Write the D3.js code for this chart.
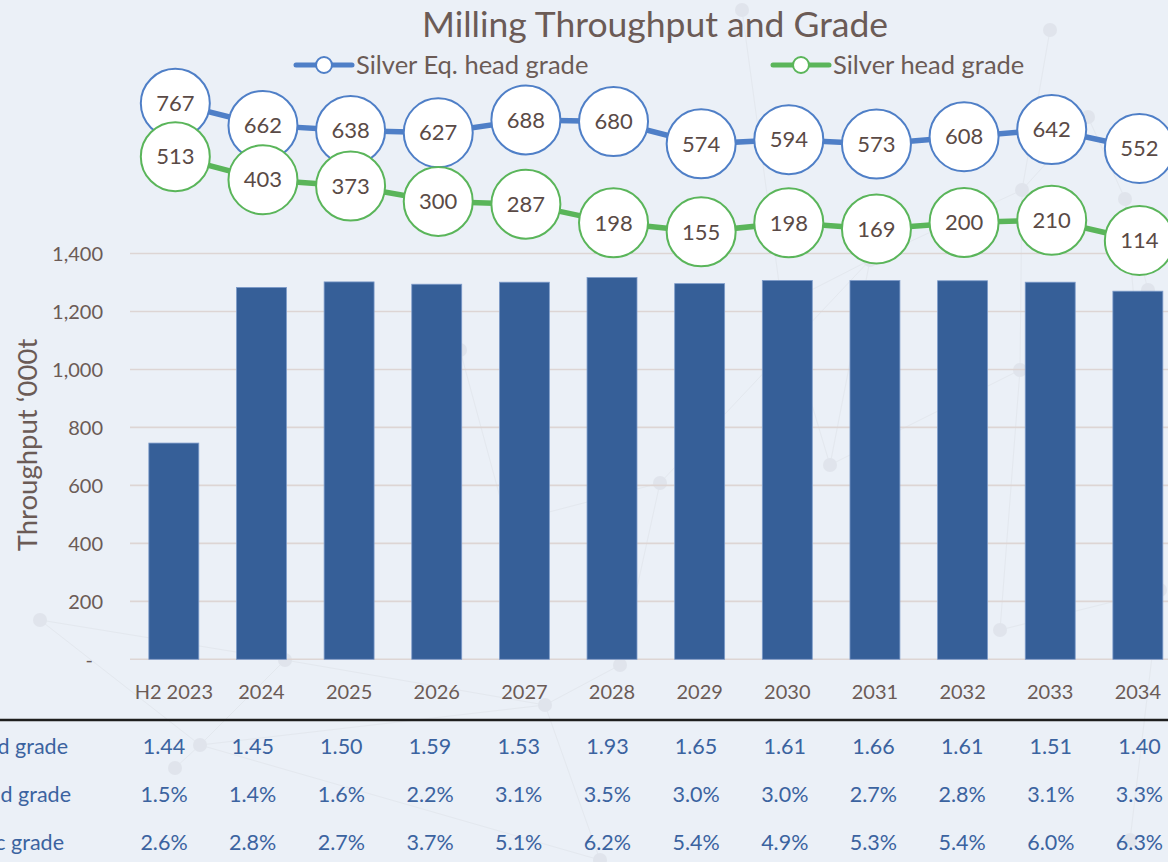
<!DOCTYPE html>
<html>
<head>
<meta charset="utf-8">
<script src="https://cdn.jsdelivr.net/npm/d3@7/dist/d3.min.js"></script>
<style>
  html, body { margin: 0; padding: 0; background: #ebf0f7; overflow: hidden; }
  svg { display: block; font-family: Lato, "Noto Sans", sans-serif; }
</style>
</head>
<body>
<svg id="chart" width="1168" height="862"></svg>
<script>
// ---- data ----
const categories = ["H2 2023","2024","2025","2026","2027","2028","2029","2030","2031","2032","2033","2034"];
const throughput = [746,1283,1302,1294,1301,1317,1296,1307,1307,1306,1301,1270];
const silverEqGrade = [767,662,638,627,688,680,574,594,573,608,642,552];
const silverHeadGrade = [513,403,373,300,287,198,155,198,169,200,210,114];
const goldHeadGrade = [1.44,1.45,1.50,1.59,1.53,1.93,1.65,1.61,1.66,1.61,1.51,1.40];
const leadHeadGrade = [1.5,1.4,1.6,2.2,3.1,3.5,3.0,3.0,2.7,2.8,3.1,3.3];
const zincGrade = [2.6,2.8,2.7,3.7,5.1,6.2,5.4,4.9,5.3,5.4,6.0,6.3];
const tableRowLabels = ["Gold head grade","Lead head grade","Zinc grade"];
const yTicks = [0,200,400,600,800,1000,1200,1400];
const seriesNames = ["Silver Eq. head grade","Silver head grade"];

// ---- setup ----
const W = 1168, H = 862;
const svg = d3.select("#chart");
const textColor = "#6b5b56";
const blue = "#4f7fc7", green = "#5ab55a", barFill = "#365f98", tableBlue = "#3b63a0";

// decorative network background
const deco = svg.append("g").attr("opacity", 0.5);
const nodes = [[40,620],[175,768],[200,745],[285,660],[460,350],[507,523],[545,705],[600,860],[620,665],[660,483],[742,10],[782,305],[830,465],[870,260],[1020,370],[1022,190],[1088,117],[1125,199],[1160,590],[1130,840],[1205,148],[1285,258],[1000,630],[1050,30],[1148,290]];
const links = [[1,2],[2,3],[2,6],[3,6],[6,8],[4,5],[5,9],[8,9],[9,13],[11,13],[12,13],[12,14],[14,15],[15,16],[16,17],[17,18],[18,19],[11,12],[2,7],[6,7],[13,15],[14,22],[22,18],[10,11],[15,23],[17,24],[0,2],[0,3]];
deco.selectAll("line").data(links).join("line")
  .attr("x1", d => nodes[d[0]][0]).attr("y1", d => nodes[d[0]][1])
  .attr("x2", d => nodes[d[1]][0]).attr("y2", d => nodes[d[1]][1])
  .attr("stroke", "#dde1e7").attr("stroke-width", 1);
deco.selectAll("circle").data(nodes).join("circle")
  .attr("cx", d => d[0]).attr("cy", d => d[1]).attr("r", 7)
  .attr("fill", "#d6dae2");

// scales
const step = 87.64;
const x = d3.scaleBand().domain(categories)
  .range([130, 130 + step * categories.length])
  .paddingInner(0.43).paddingOuter(0.215);
const tableStep = 88.68;
const xt = d3.scaleBand().domain(categories)
  .range([164 - tableStep / 2, 164 - tableStep / 2 + tableStep * categories.length]);
const y = d3.scaleLinear().domain([0, 1400]).range([659.3, 253.5]);
const y2 = d3.scaleLinear().domain([0, 1000]).range([264.4, 54.4]);
const cx = d => x(d) + x.bandwidth() / 2;
const tx = d => xt(d) + xt.bandwidth() / 2;

// gridlines
svg.append("g").selectAll("line").data(yTicks).join("line")
  .attr("x1", 130).attr("x2", W)
  .attr("y1", d => y(d)).attr("y2", d => y(d))
  .attr("stroke", "#ddd5d4").attr("stroke-width", 1.6);

// y axis labels
const yAxis = d3.axisLeft(y).tickValues(yTicks)
  .tickFormat(d => d === 0 ? "-" : d3.format(",")(d))
  .tickSize(0).tickPadding(0);
const yg = svg.append("g").attr("transform", "translate(103,0)").call(yAxis);
yg.select(".domain").remove();
yg.selectAll("text").attr("fill", textColor).style("font-size", "20px")
  .style("font-family", "Lato, sans-serif").attr("dy", "0.35em");
yg.selectAll(".tick").filter(d => d === 0).select("text").attr("dx", "-10");

// y title
svg.append("text")
  .attr("transform", "translate(37,445) rotate(-90)")
  .attr("text-anchor", "middle")
  .attr("fill", textColor).style("font-size", "27.5px")
  .text("Throughput \u2018000t");

// bars
svg.append("g").selectAll("rect").data(categories).join("rect")
  .attr("x", d => x(d)).attr("width", x.bandwidth())
  .attr("y", (d, i) => y(throughput[i]))
  .attr("height", (d, i) => y(0) - y(throughput[i]))
  .attr("fill", barFill).attr("stroke", "#7d9bc9").attr("stroke-width", 0.8);

// x axis labels
const xAxis = d3.axisBottom(x).tickSize(0).tickPadding(0);
const xg = svg.append("g").attr("transform", "translate(0,691.5)").call(xAxis);
xg.select(".domain").remove();
xg.selectAll("text").attr("fill", textColor).style("font-size", "20px")
  .style("font-family", "Lato, sans-serif").attr("dy", "0.35em");

// separator line
svg.append("line").attr("x1", 0).attr("x2", W).attr("y1", 720).attr("y2", 720)
  .attr("stroke", "#1e1e1e").attr("stroke-width", 2.5);

// table
const tableRows = [
  {label: tableRowLabels[0], values: goldHeadGrade, fmt: d3.format(".2f"), yy: 746.5, lx: 68},
  {label: tableRowLabels[1], values: leadHeadGrade, fmt: v => d3.format(".1f")(v) + "%", yy: 794.5, lx: 71},
  {label: tableRowLabels[2], values: zincGrade, fmt: v => d3.format(".1f")(v) + "%", yy: 842.5, lx: 64}
];
const tg = svg.append("g").style("font-size", "21.5px").attr("fill", tableBlue);
tableRows.forEach(r => {
  tg.append("text").attr("x", r.lx).attr("y", r.yy).attr("dy", "0.35em")
    .attr("text-anchor", "end").text(r.label);
  tg.selectAll(null).data(categories).join("text")
    .attr("x", d => tx(d)).attr("y", r.yy).attr("dy", "0.35em")
    .attr("text-anchor", "middle")
    .text((d, i) => r.fmt(r.values[i]));
});

// lines with circle labels
function drawSeries(values, color) {
  const pts = categories.map((c, i) => [cx(c) + 1.5, y2(values[i])]);
  svg.append("path").datum(pts)
    .attr("d", d3.line())
    .attr("fill", "none").attr("stroke", color).attr("stroke-width", 5.5);
  const g = svg.append("g");
  g.selectAll("circle").data(pts).join("circle")
    .attr("cx", d => d[0]).attr("cy", d => d[1]).attr("r", 34.5)
    .attr("fill", "#ffffff").attr("stroke", color).attr("stroke-width", 2);
  g.selectAll("text").data(pts).join("text")
    .attr("x", d => d[0]).attr("y", d => d[1]).attr("dy", "0.35em")
    .attr("text-anchor", "middle").attr("fill", "#5a4a46")
    .style("font-size", "22px")
    .text((d, i) => values[i]);
}
drawSeries(silverEqGrade, blue);
drawSeries(silverHeadGrade, green);

// title
svg.append("text").attr("x", 655).attr("y", 37).attr("text-anchor", "middle")
  .attr("fill", textColor).style("font-size", "35.5px")
  .text("Milling Throughput and Grade");

// legend
const legendItems = [
  {name: seriesNames[0], color: blue, x0: 296},
  {name: seriesNames[1], color: green, x0: 773}
];
const lg = svg.append("g");
legendItems.forEach(it => {
  lg.append("line").attr("x1", it.x0).attr("x2", it.x0 + 56)
    .attr("y1", 65).attr("y2", 65)
    .attr("stroke", it.color).attr("stroke-width", 5).attr("stroke-linecap", "round");
  lg.append("circle").attr("cx", it.x0 + 28).attr("cy", 65).attr("r", 8)
    .attr("fill", "#fff").attr("stroke", it.color).attr("stroke-width", 2);
  lg.append("text").attr("x", it.x0 + 60).attr("y", 65).attr("dy", "0.35em")
    .attr("fill", textColor).style("font-size", "25.5px").text(it.name);
});
</script>
</body>
</html>
